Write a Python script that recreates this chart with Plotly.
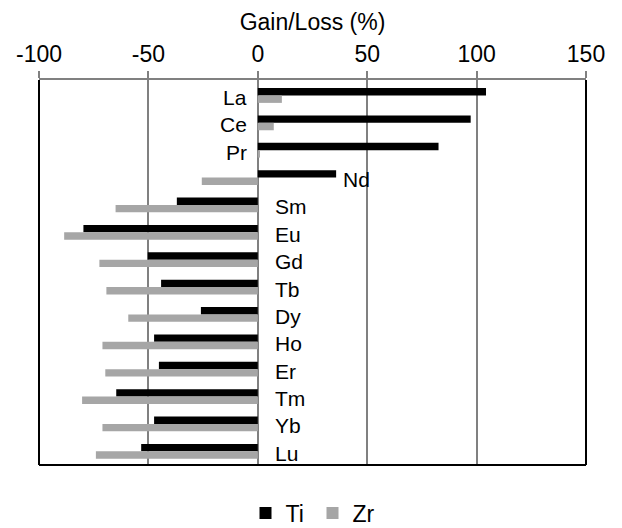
import plotly.graph_objects as go

elements = ["La", "Ce", "Pr", "Nd", "Sm", "Eu", "Gd", "Tb", "Dy", "Ho", "Er", "Tm", "Yb", "Lu"]
ti_values = [104.3, 97.3, 82.6, 35.8, -37.0, -79.7, -50.3, -44.2, -26.0, -47.4, -45.2, -64.7, -47.4, -53.3]
zr_values = [11.0, 7.3, 1.0, -25.6, -65.0, -88.5, -72.4, -69.2, -59.2, -71.0, -69.7, -80.3, -71.0, -74.0]
x_ticks = [-100, -50, 0, 50, 100, 150]

FONT = "Liberation Sans, Arial, sans-serif"
GRID = "#808080"

fig = go.Figure()
fig.add_trace(go.Bar(y=elements, x=ti_values, name="Ti", orientation="h",
                     marker=dict(color="#000000", line=dict(width=0))))
fig.add_trace(go.Bar(y=elements, x=zr_values, name="Zr", orientation="h",
                     marker=dict(color="#a6a6a6", line=dict(width=0))))

annotations = []
for el, ti, zr in zip(elements, ti_values, zr_values):
    if ti > 0 and zr > 0:
        ax, anchor, shift = 0, "right", -9
    elif ti > 0:
        ax, anchor, shift = ti, "left", 5
    else:
        ax, anchor, shift = 0, "left", 15
    annotations.append(dict(x=ax, y=el, xref="x", yref="y", text=el, showarrow=False,
                            xanchor=anchor, xshift=shift, yshift=-2,
                            font=dict(family=FONT, size=21, color="#000000")))

fig.update_layout(
    width=622, height=528,
    margin=dict(l=39, r=36, t=80, b=63, autoexpand=False),
    paper_bgcolor="white", plot_bgcolor="white",
    font=dict(family=FONT, color="#000000"),
    barmode="group", bargap=0.46, bargroupgap=0,
    showlegend=True,
    legend=dict(orientation="h", x=0.5, xanchor="center", xref="paper",
                y=15 / 528, yanchor="middle", yref="container",
                font=dict(family=FONT, size=23, color="#000000"), itemwidth=30,
                entrywidth=22, entrywidthmode="pixels",
                traceorder="normal"),
    annotations=annotations,
    shapes=[
        dict(type="line", xref="paper", yref="paper", x0=0, x1=0, y0=0, y1=1,
             line=dict(color="black", width=2), layer="above"),
        dict(type="line", xref="paper", yref="paper", x0=1, x1=1, y0=0, y1=1,
             line=dict(color="black", width=2), layer="above"),
        dict(type="line", xref="paper", yref="paper", x0=0, x1=1, y0=0, y1=0,
             line=dict(color="black", width=2), layer="above"),
    ],
)

fig.update_xaxes(
    side="top", range=[-100, 150], tickvals=x_ticks, ticktext=[str(v) for v in x_ticks],
    showgrid=True, gridcolor=GRID, gridwidth=1.5,
    zeroline=True, zerolinecolor=GRID, zerolinewidth=1.5,
    showline=True, linecolor=GRID, linewidth=2,
    ticks="outside", ticklen=7, tickcolor=GRID, tickwidth=1.5,
    tickfont=dict(family=FONT, size=23, color="#000000"),
    title=dict(text="Gain/Loss (%)", font=dict(family=FONT, size=23, color="#000000"), standoff=4),
    fixedrange=True,
)
fig.update_yaxes(
    autorange="reversed", showticklabels=False, showgrid=False, zeroline=False,
    showline=False, ticks="", fixedrange=True,
)

fig.write_html("out.html")
